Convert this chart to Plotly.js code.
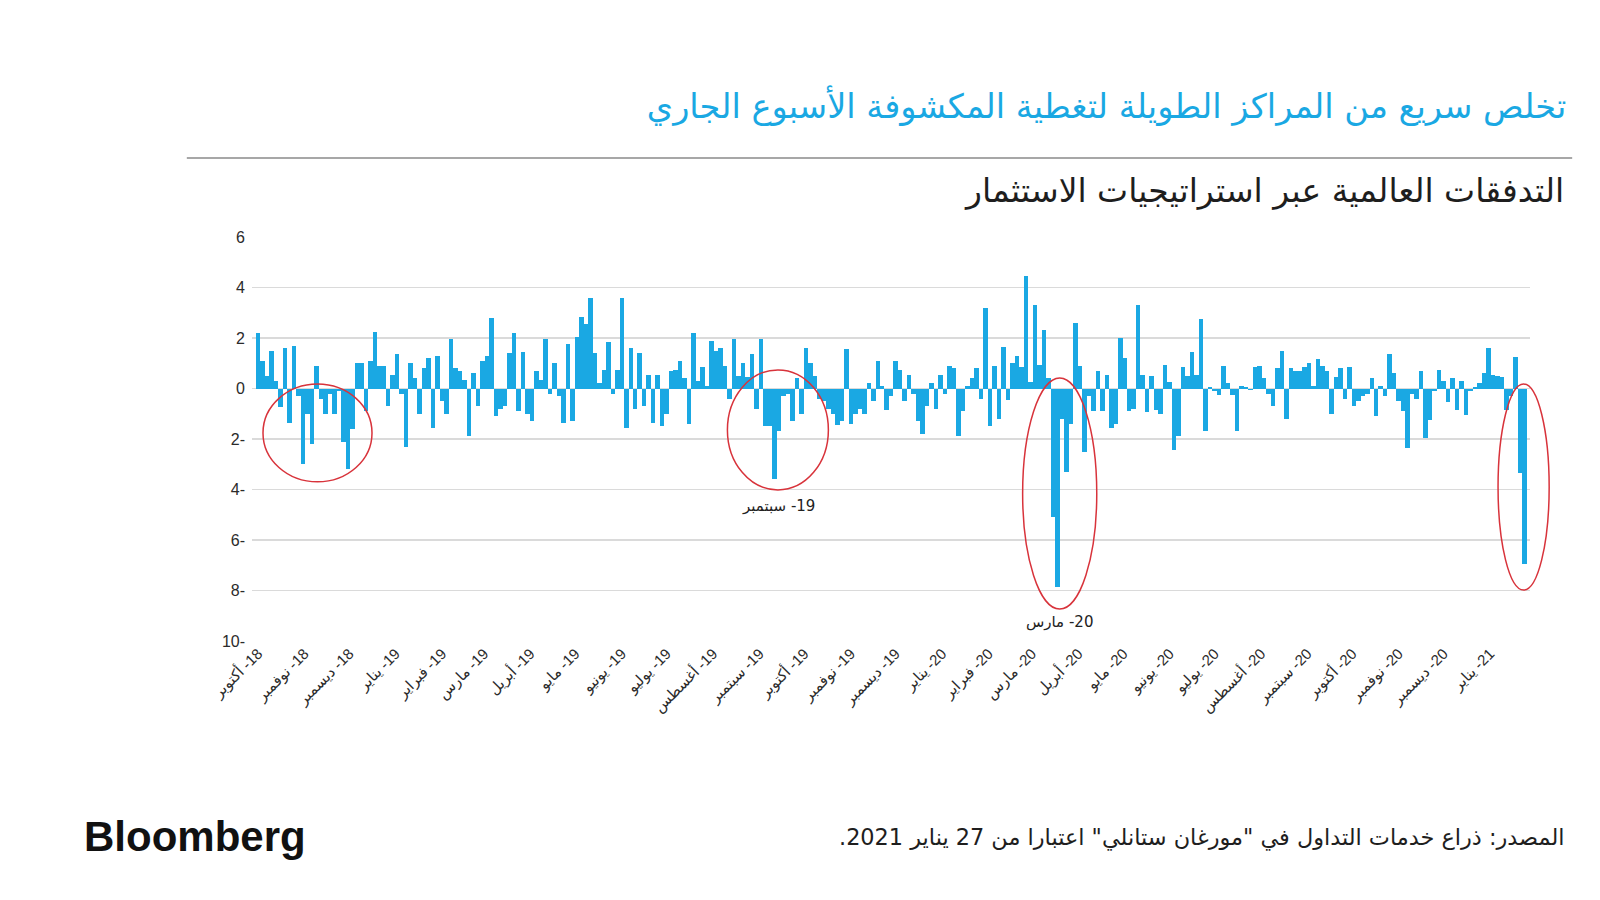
<!DOCTYPE html>
<html>
<head>
<meta charset="utf-8">
<script src="https://cdn.plot.ly/plotly-3.0.1.min.js"></script>
<style>
  body { margin: 0; background: #fff; }
  #chart { width: 1600px; height: 900px; }
</style>
</head>
<body>
<div id="chart"></div>
<script>
// flows, one bar every 3 days from 2018-10-01
const flows2018 = [
  2.2, 1.1, 0.5, 1.47, 0.3, -0.73, 1.6, -1.35, 1.67, -0.3,
  -3.0, -1.0, -2.2, 0.9, -0.4, -1.0, -0.2, -1.0, -0.1, -2.1,
  -3.2, -1.6, 1.0, 1.0, -0.9, 1.1, 2.25, 0.9, 0.9, -0.7,
  0.55
]
const flows2019 = [
  1.35, -0.2, -2.3, 1.0, 0.4, -1.0, 0.8, 1.2, -1.55, 1.3,
  -0.5, -1.0, 1.95, 0.8, 0.7, 0.35, -1.9, 0.6, -0.7, 1.1,
  1.3, 2.8, -1.1, -0.8, -0.7, 1.4, 2.2, -0.9, 1.45, -1.0,
  -1.3, 0.7, 0.35, 1.95, -0.2, 1.0, -0.3, -1.35, 1.75, -1.3,
  2.05, 2.85, 2.55, 3.6, 1.4, 0.2, 0.75, 1.85, -0.2, 0.75,
  3.6, -1.55, 1.6, -0.8, 1.4, -0.7, 0.55, -1.35, 0.55, -1.5,
  -1.0, 0.7, 0.75, 1.1, 0.4, -1.4, 2.2, 0.3, 0.85, 0.1,
  1.9, 1.5, 1.6, 0.9, -0.4, 1.95, 0.5, 1.0, 0.45, 1.35,
  -0.8, 1.95, -1.5, -1.5, -3.6, -1.7, -0.3, -0.2, -1.3, 0.4,
  -1.0, 1.6, 1.0, 0.5, -0.4, -0.5, -0.8, -1.0, -1.45, -1.3,
  1.55, -1.4, -1.0, -0.8, -1.0, 0.2, -0.5, 1.1, 0.1, -0.85,
  -0.3, 1.1, 0.75, -0.5, 0.55, -0.2, -1.3, -1.8, -0.7, 0.2,
  -0.8, 0.55
]
const flows2020 = [
  -0.2, 0.9, 0.8, -1.9, -0.9, 0.1, 0.4, 0.8, -0.4, 3.2,
  -1.5, 0.9, -1.2, 1.65, -0.45, 1.0, 1.3, 0.85, 4.45, 0.25,
  3.3, 0.95, 2.3, 0.4, -5.1, -7.85, -1.2, -3.3, -1.4, 2.6,
  0.9, -2.5, -0.3, -0.9, 0.7, -0.9, 0.55, -1.55, -1.4, 2.0,
  1.2, -0.9, -0.8, 3.3, 0.55, -0.95, 0.5, -0.85, -1.0, 0.95,
  0.25, -2.45, -1.9, 0.85, 0.5, 1.45, 0.55, 2.75, -1.7, 0.05,
  -0.1, -0.25, 0.9, 0.2, -0.25, -1.7, 0.1, 0.05, -0.05, 0.85,
  0.9, 0.4, -0.2, -0.7, 0.8, 1.5, -1.2, 0.8, 0.7, 0.7,
  0.85, 1.0, 0.1, 1.15, 0.9, 0.7, -1.0, 0.45, 0.8, -0.4,
  0.85, -0.7, -0.5, -0.3, -0.2, 0.4, -1.1, 0.1, -0.3, 1.35,
  0.6, -0.5, -0.9, -2.35, -0.2, -0.4, 0.7, -1.95, -1.25, -0.1,
  0.75, 0.3, -0.55, 0.4, -0.85, 0.3, -1.05, -0.1, 0.05, 0.2,
  0.6, 1.6
]
const flows2021 = [0.55, 0.5, 0.45, -0.85, -0.3, 1.25, -3.35, -6.95]

const tickDates = [
  "2018-10-01", "2018-11-01", "2018-12-01",
  "2019-01-01", "2019-02-01", "2019-03-01", "2019-04-01", "2019-05-01", "2019-06-01",
  "2019-07-01", "2019-08-01", "2019-09-01", "2019-10-01", "2019-11-01", "2019-12-01",
  "2020-01-01", "2020-02-01", "2020-03-01", "2020-04-01", "2020-05-01", "2020-06-01",
  "2020-07-01", "2020-08-01", "2020-09-01", "2020-10-01", "2020-11-01", "2020-12-01",
  "2021-01-01",
]
const monthNames = [
  "يناير", "فبراير", "مارس", "أبريل", "مايو", "يونيو",
  "يوليو", "أغسطس", "سبتمبر", "أكتوبر", "نوفمبر", "ديسمبر",
]
const yTickVals = [6, 4, 2, 0, -2, -4, -6, -8, -10]
const yTickText = ["6", "4", "2", "0", "2-", "4-", "6-", "8-", "10-"]

const BLUE = "#1aa8e3"
const AR = "DejaVu Sans, sans-serif"
const LRM = "\u200E"
const RLM = "\u200F"

const flows = [...flows2018, ...flows2019, ...flows2020, ...flows2021]
const start = Date.UTC(2018, 9, 1)
const dates = flows.map((_, i) =>
  new Date(start + i * 3 * 86400000).toISOString().slice(0, 10)
)

// month name + "-yy", numbers kept on the right
const monthLabel = (name, yy) => name + LRM + " -" + yy
const tickText = tickDates.map(d => {
  const [y, mo] = d.split("-")
  return monthLabel(monthNames[+mo - 1], y.slice(2))
})

const trace = {
  type: "bar",
  x: dates,
  y: flows,
  marker: { color: BLUE, line: { width: 0 } },
  hoverinfo: "x+y",
}

// plot box is 252..1530 px wide, 237..641 px tall
const ellipse = (x0, x1, y0, y1) => ({
  type: "circle",
  xref: "paper", yref: "paper",
  x0, x1, y0, y1,
  line: { color: "#d8333b", width: 1.5 },
  layer: "above",
})

const layout = {
  width: 1600,
  height: 900,
  paper_bgcolor: "#fff",
  plot_bgcolor: "#fff",
  showlegend: false,
  bargap: 0,
  margin: { l: 252, r: 70, t: 237, b: 259 },
  font: { family: "Liberation Sans, " + AR, size: 15, color: "#2b2b2b" },
  title: {
    text: "تخلص سريع من المراكز الطويلة لتغطية المكشوفة الأسبوع الجاري",
    xref: "container", yref: "container",
    x: 0.979, xanchor: "right",
    y: 0.882, yanchor: "middle",
    font: { family: AR, size: 33.6, color: BLUE },
  },
  xaxis: {
    type: "date",
    range: ["2018-09-27", "2021-01-27 17:00"],
    tickmode: "array",
    tickvals: tickDates,
    ticktext: tickText,
    tickangle: -45,
    tickfont: { family: "Liberation Sans, " + AR, size: 15, color: "#2b2b2b" },
    showgrid: false,
    zeroline: false,
    showline: false,
    ticks: "",
  },
  yaxis: {
    range: [-10, 6],
    tickmode: "array",
    tickvals: yTickVals,
    ticktext: yTickText,
    tickfont: { family: "Liberation Sans, sans-serif", size: 16, color: "#2b2b2b" },
    showgrid: true,
    gridcolor: "#dadada",
    gridwidth: 1.5,
    zeroline: false,
    showline: false,
    ticks: "",
    ticklabelstandoff: 6,
  },
  shapes: [
    {
      type: "line", xref: "paper", yref: "paper",
      x0: -0.051, x1: 1.033, y0: 1.1955, y1: 1.1955,
      line: { color: "#8a8a8a", width: 1.5 },
    },
    ellipse(0.0086, 0.0939, 0.394, 0.636),
    ellipse(0.372, 0.451, 0.374, 0.671),
    ellipse(0.603, 0.661, 0.079, 0.651),
    ellipse(0.975, 1.015, 0.126, 0.636),
  ],
  annotations: [
    {
      text: "التدفقات العالمية عبر استراتيجيات الاستثمار",
      xref: "paper", yref: "paper", x: 1.028, y: 1.114,
      xanchor: "right", yanchor: "middle", showarrow: false,
      font: { family: AR, size: 33, color: "#1e1e1e" },
    },
    {
      text: monthLabel("سبتمبر", "19"),
      xref: "paper", yref: "paper", x: 0.4116, y: 0.334,
      xanchor: "center", yanchor: "middle", showarrow: false,
      font: { family: AR, size: 15, color: "#222" },
    },
    {
      text: monthLabel("مارس", "20"),
      xref: "paper", yref: "paper", x: 0.6315, y: 0.047,
      xanchor: "center", yanchor: "middle", showarrow: false,
      font: { family: AR, size: 15, color: "#222" },
    },
    {
      text: "<b>Bloomberg</b>",
      xref: "paper", yref: "paper", x: -0.133, y: -0.485,
      xanchor: "left", yanchor: "middle", showarrow: false,
      font: { family: "Liberation Sans, Arial, sans-serif", size: 42, color: "#111" },
    },
    {
      text: "المصدر: ذراع خدمات التداول في \"مورغان ستانلي\" اعتبارا من 27 يناير 2021." + RLM,
      xref: "paper", yref: "paper", x: 1.028, y: -0.4876,
      xanchor: "right", yanchor: "middle", showarrow: false,
      font: { family: AR, size: 22.4, color: "#1e1e1e" },
    },
  ],
}

Plotly.newPlot("chart", [trace], layout, { displayModeBar: false, staticPlot: true })
</script>
</body>
</html>
